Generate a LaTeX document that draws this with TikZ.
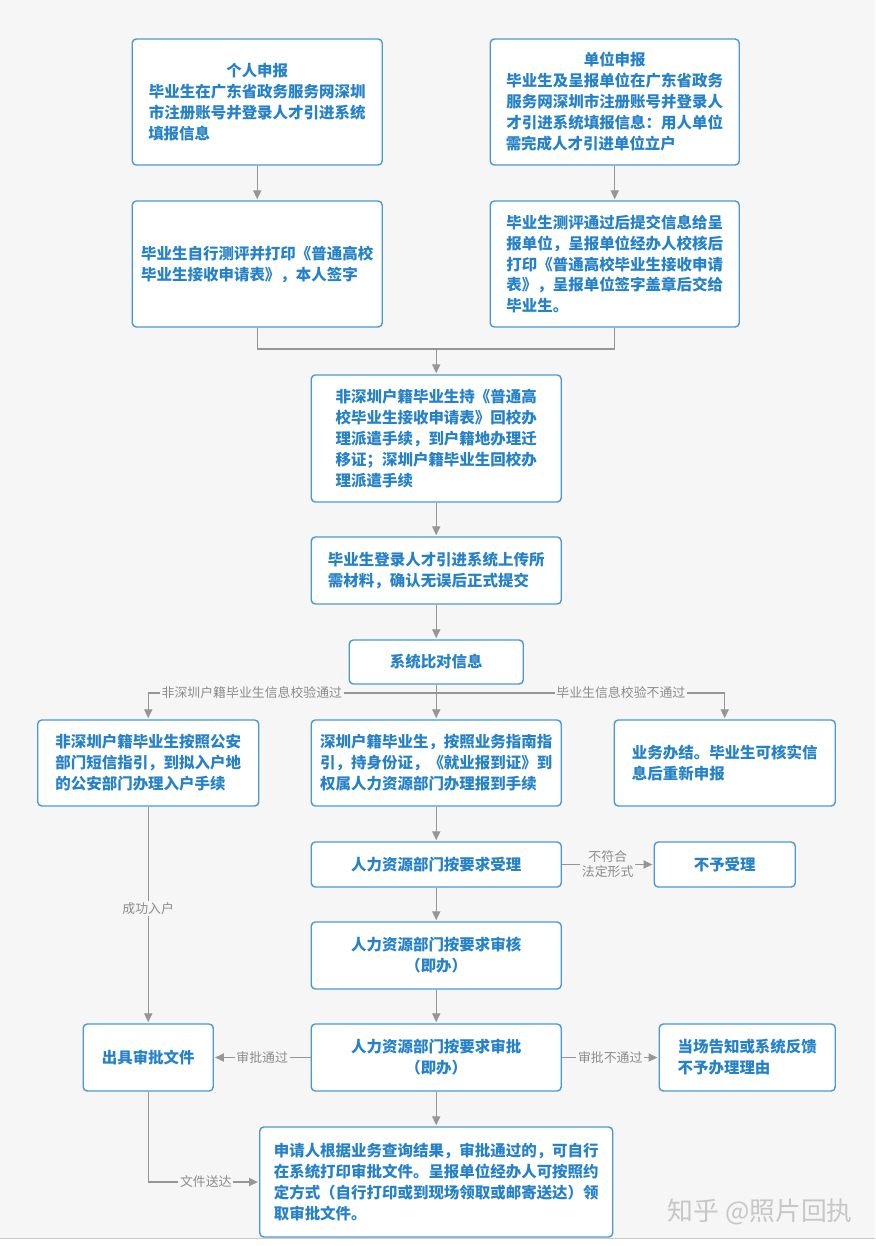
\documentclass[tikz,border=0pt]{standalone}
\usepackage{fontspec}
\setmainfont{Noto Sans CJK SC}
\usetikzlibrary{arrows.meta}

\definecolor{boxblue}{RGB}{72,154,214}
\definecolor{txtblue}{RGB}{38,130,200}
\definecolor{linegray}{RGB}{150,150,150}
\definecolor{labgray}{RGB}{140,140,140}
\definecolor{bggray}{RGB}{246,246,246}

\newcommand\boxfont{\bfseries\fontsize{13.2pt}{17.9pt}\selectfont}
\newcommand\tagfont{\fontsize{11pt}{12.8pt}\selectfont}

\tikzset{
    stepbox/.style={draw=boxblue, fill=white, line width=1.2pt, rounded corners=3.5pt,
        text=txtblue, font=\boxfont, align=left, inner sep=0pt},
    boxsize/.style 2 args={minimum width=#1*0.03cm, minimum height=#2*0.03cm},
    link/.style={draw=linegray, line width=1.1pt, shorten >=1pt,
        -{Triangle[width=7pt,length=7.5pt]}},
    plain/.style={draw=linegray, line width=1.1pt},
    tag/.style={fill=bggray, text=labgray, font=\tagfont, inner sep=1.5pt, align=center}
}

\begin{document}
\begin{tikzpicture}[x=0.03cm, y=-0.03cm]

    % page
    \fill[bggray] (0,0) rectangle (875,1238);
    \draw[linegray!50] (0,1238) -- (875,1238);
    \useasboundingbox (0,0) rectangle (875,1246);

    % top row
    \node[stepbox, boxsize={250}{126}, text width=186pt, align=center] (pers) at (257,102)
        {个人申报\\毕业生在广东省政务服务网深圳\\市注册账号并登录人才引进系统\\填报信息\hfill\null};
    \node[stepbox, boxsize={249}{126}, text width=186pt, align=center] (unit) at (614.5,102)
        {单位申报\\毕业生及呈报单位在广东省政务\\服务网深圳市注册账号并登录人\\才引进系统填报信息：用人单位\\需完成人才引进单位立户\hfill\null};
    \node[stepbox, boxsize={250}{126}] (self) at (257,264)
        {毕业生自行测评并打印《普通高校\\毕业生接收申请表》，本人签字};
    \node[stepbox, boxsize={249}{126}] (check) at (614.5,264)
        {毕业生测评通过后提交信息给呈\\报单位，呈报单位经办人校核后\\打印《普通高校毕业生接收申请\\表》，呈报单位签字盖章后交给\\毕业生。};

    % middle column
    \node[stepbox, boxsize={250}{127}] (dispatch) at (436,438.5)
        {非深圳户籍毕业生持《普通高\\校毕业生接收申请表》回校办\\理派遣手续，到户籍地办理迁\\移证；深圳户籍毕业生回校办\\理派遣手续};
    \node[stepbox, boxsize={250}{67}] (upload) at (436,570.5)
        {毕业生登录人才引进系统上传所\\需材料，确认无误后正式提交};
    \node[stepbox, boxsize={174}{44}] (compare) at (436,662) {系统比对信息};

    % three branches
    \node[stepbox, boxsize={221}{86}] (hukou) at (148,763)
        {非深圳户籍毕业生按照公安\\部门短信指引，到拟入户地\\的公安部门办理入户手续};
    \node[stepbox, boxsize={250}{86}] (local) at (436,763)
        {深圳户籍毕业生，按照业务指南指\\引，持身份证，《就业报到证》到\\权属人力资源部门办理报到手续};
    \node[stepbox, boxsize={221}{86}] (fail) at (724.5,763)
        {业务办结。毕业生可核实信\\息后重新申报};

    % human resources
    \node[stepbox, boxsize={250}{45}] (accept) at (436,864.5) {人力资源部门按要求受理};
    \node[stepbox, boxsize={141}{45}] (reject) at (724.5,864.5) {不予受理};
    \node[stepbox, boxsize={250}{67}, align=center] (review) at (436,955.5)
        {人力资源部门按要求审核\\（即办）};
    \node[stepbox, boxsize={250}{67}, align=center] (approve) at (436,1057.5)
        {人力资源部门按要求审批\\（即办）};
    \node[stepbox, boxsize={130}{67}] (issue) at (148,1057.5) {出具审批文件};
    \node[stepbox, boxsize={176}{67}] (notice) at (747,1057.5)
        {当场告知或系统反馈\\不予办理理由};
    \node[stepbox, boxsize={353}{110}] (collect) at (436,1182)
        {申请人根据业务查询结果，审批通过的，可自行\\在系统打印审批文件。呈报单位经办人可按照约\\定方式（自行打印或到现场领取或邮寄送达）领\\取审批文件。};

    % straight arrows
    \foreach \i/\j in {pers/self, unit/check, dispatch/upload, upload/compare,
                       compare/local, local/accept, accept/review, review/approve, approve/collect}
        \draw[link] (\i.south) -- (\j.north);

    % merge of the two applications
    \coordinate (merge) at (436,349);
    \draw[plain] (self.south) |- (merge);
    \draw[plain] (check.south) |- (merge);
    \draw[link] (merge) -- (dispatch.north);

    % fork after comparing
    \coordinate (fork) at (436,693);
    \draw[link] (fork) -| (hukou.north) node[tag, pos=0.32] {非深圳户籍毕业生信息校验通过};
    \draw[link] (fork) -| (fail.north) node[tag, pos=0.32] {毕业生信息校验不通过};

    % side arrows
    \draw[link] (accept) -- (reject) node[tag, midway] {不符合\\法定形式};
    \draw[link] (approve) -- (issue) node[tag, midway] {审批通过};
    \draw[link] (approve) -- (notice) node[tag, midway] {审批不通过};
    \draw[link] (hukou.south) -- (issue.north) node[tag, pos=0.47] {成功入户};
    \draw[link] (issue.south) |- (collect.west) node[tag, pos=0.76] {文件送达};

    % watermark
    \node[text=black!22, font=\fontsize{22pt}{24pt}\selectfont] (mark) at (760,1212) {知乎 @照片回执};

\end{tikzpicture}
\end{document}
